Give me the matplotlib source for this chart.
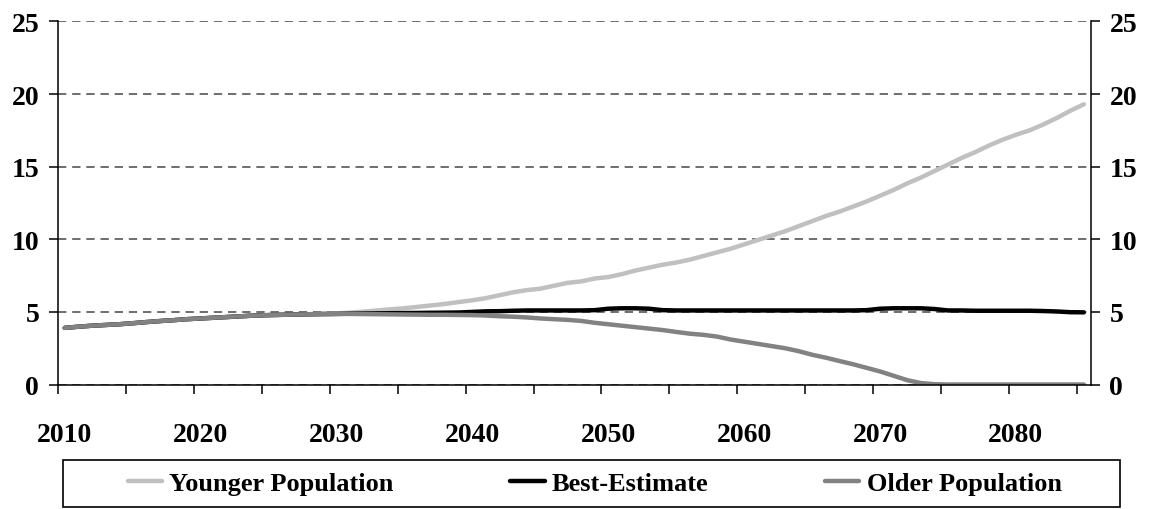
import matplotlib
matplotlib.use("Agg")
import matplotlib.pyplot as plt
from matplotlib.patches import Rectangle

years = list(range(2010, 2086))

best = [3.90, 3.98, 4.05, 4.10, 4.15, 4.22, 4.30, 4.37, 4.43, 4.50,
        4.55, 4.60, 4.65, 4.70, 4.75, 4.78, 4.80, 4.82, 4.84, 4.85,
        4.86, 4.88, 4.89, 4.90, 4.91, 4.92, 4.93, 4.94, 4.95, 4.96,
        5.00, 5.04, 5.05, 5.08, 5.10, 5.10, 5.10, 5.10, 5.10, 5.12,
        5.22, 5.25, 5.25, 5.22, 5.12, 5.10, 5.10, 5.10, 5.10, 5.10,
        5.10, 5.10, 5.10, 5.10, 5.10, 5.10, 5.10, 5.10, 5.10, 5.12,
        5.22, 5.25, 5.25, 5.25, 5.20, 5.10, 5.10, 5.08, 5.08, 5.08,
        5.08, 5.08, 5.06, 5.03, 4.98, 4.97]

younger = best[:19] + [
    4.87, 4.90, 4.95, 5.02, 5.10, 5.18, 5.25, 5.35, 5.45, 5.55, 5.68,
    5.80, 5.95, 6.15, 6.35, 6.50, 6.60, 6.80, 7.00, 7.10, 7.30,
    7.40, 7.60, 7.85, 8.05, 8.25, 8.40, 8.60, 8.85, 9.10, 9.35,
    9.65, 9.95, 10.25, 10.55, 10.90, 11.25, 11.60, 11.90, 12.25, 12.60,
    13.00, 13.40, 13.85, 14.25, 14.70, 15.15, 15.60, 16.00, 16.45, 16.85,
    17.20, 17.50, 17.90, 18.35, 18.85, 19.30]

older = best[:21] + [
    4.86, 4.85, 4.84, 4.83, 4.82, 4.81, 4.80, 4.80, 4.79,
    4.78, 4.75, 4.70, 4.67, 4.62, 4.55, 4.50, 4.45, 4.38, 4.25,
    4.15, 4.05, 3.95, 3.85, 3.75, 3.62, 3.50, 3.42, 3.30, 3.10,
    2.95, 2.80, 2.65, 2.50, 2.30, 2.05, 1.85, 1.62, 1.40, 1.15,
    0.90, 0.60, 0.30, 0.10, 0.02, 0, 0, 0, 0, 0,
    0, 0, 0, 0, 0, 0]

labels = ["Younger Population", "Best-Estimate", "Older Population"]
colors = ["#c0c0c0", "#000000", "#828282"]

plt.rcParams['font.family'] = ['Liberation Serif', 'DejaVu Serif']
plt.rcParams['font.weight'] = 'bold'

fig = plt.figure(figsize=(11.5, 5.1), dpi=100)
ax = fig.add_axes([0.0504, 0.2441, 0.8980, 0.7118])

for vals, lab, col in zip([younger, best, older], labels, colors):
    ax.plot(years, vals, color=col, lw=3.2, label=lab, solid_capstyle='round')

ax.set_xlim(2009.5, 2085.5)
ax.set_ylim(0, 25)
ax.set_yticks([0, 5, 10, 15, 20, 25])
ax.yaxis.grid(True, color='#555555', lw=1.2, linestyle=(0, (5, 3.5)))
ax.set_axisbelow(True)

ax.set_xticks([2009.5 + 5 * k for k in range(16)])
ax.set_xticklabels([])
ax.set_xticks(list(range(2010, 2081, 10)), minor=True)
ax.set_xticklabels([str(y) for y in range(2010, 2081, 10)], minor=True)
ax.tick_params(axis='x', which='major', direction='out', length=6.5, width=1.1)
ax.tick_params(axis='x', which='minor', length=0, pad=27, labelsize=20)
ax.tick_params(axis='y', direction='out', length=6.5, width=1.1, pad=7,
               labelsize=20, right=True, labelright=True)

ax.spines['top'].set_visible(False)
for s in ['left', 'right', 'bottom']:
    ax.spines[s].set_linewidth(1.1)

fig.legend(loc='center', bbox_to_anchor=(0.517, 0.05), ncol=3, frameon=False,
           fontsize=19, handlelength=1.32, handletextpad=0.27,
           columnspacing=4.4)
fig.patches.append(Rectangle((63 / 1150, 1 - 508 / 510), (1120 - 63) / 1150,
                             47 / 510, transform=fig.transFigure,
                             fill=False, edgecolor='black', lw=1.2))

fig.savefig("out.png", dpi=100)
